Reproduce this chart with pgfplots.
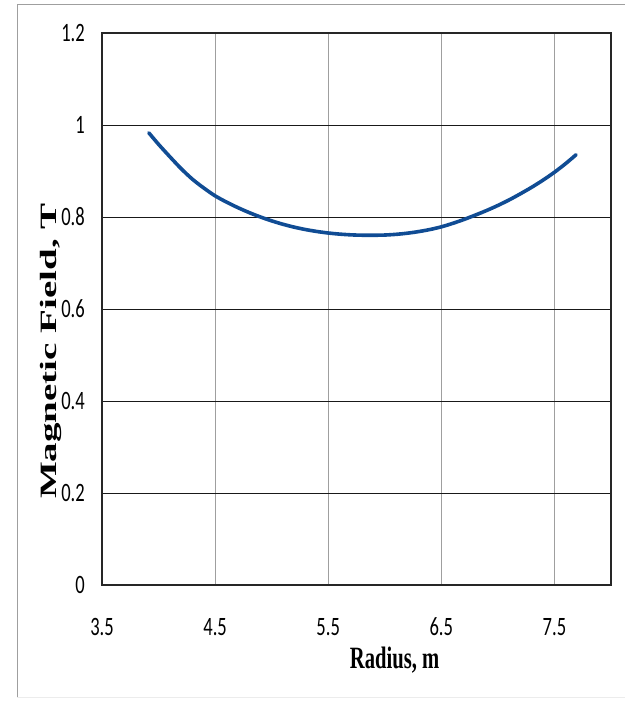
\documentclass[border=0pt]{standalone}
\usepackage{graphicx}
\usepackage{fontspec}
\setmainfont{Liberation Serif}
\newfontfamily\tickfont{Carlito}
\usepackage{pgfplots}
\pgfplotsset{compat=1.18}
\definecolor{curveblue}{RGB}{16,76,148}
\newcommand\sx[1]{\scalebox{0.70}[1]{#1}}
\begin{document}
\begin{tikzpicture}[x=1pt,y=1pt]
\useasboundingbox (0,0) rectangle (625,702);
\draw[gray!75, line width=1pt] (17,4) -- (17,697) -- (625,697);
\draw[gray!15, line width=1pt] (17,4) -- (625,4);
\begin{axis}[
  at={(102pt,117pt)}, anchor=south west,
  width=509pt, height=552pt, scale only axis,
  xmin=3.5, xmax=8, ymin=0, ymax=1.2,
  xtick={3.5,4.5,5.5,6.5,7.5},
  xticklabels={\sx{3.5},\sx{4.5},\sx{5.5},\sx{6.5},\sx{7.5}},
  ytick={0,0.2,0.4,0.6,0.8,1,1.2},
  yticklabels={\sx{0},\sx{0.2},\sx{0.4},\sx{0.6},\sx{0.8},\sx{1},\sx{1.2}},
  major tick length=0pt,
  ticklabel style={font=\tickfont\fontsize{26.5}{26.5}\selectfont, inner sep=0pt},
  xticklabel style={anchor=base, yshift=-50.7pt},
  yticklabel style={anchor=east, xshift=-17pt},
  grid=major,
  x grid style={gray!75, line width=0.9pt},
  y grid style={black!90, line width=0.8pt},
  axis line style={black!85, line width=1.5pt},
  clip=false,
]
\addplot[curveblue, line width=3.6pt, smooth, tension=0.5, line cap=round] coordinates {
(3.914,0.983)
(4.0,0.958)
(4.1,0.931)
(4.2,0.905)
(4.3,0.882)
(4.4,0.863)
(4.5,0.846)
(4.6,0.8325)
(4.7,0.8205)
(4.8,0.8097)
(4.9,0.8001)
(5.0,0.7916)
(5.1,0.7842)
(5.2,0.7779)
(5.3,0.7727)
(5.4,0.7685)
(5.5,0.7652)
(5.6,0.7628)
(5.7,0.7612)
(5.8,0.7604)
(5.9,0.7603)
(6.0,0.7608)
(6.1,0.7623)
(6.2,0.7648)
(6.3,0.7683)
(6.4,0.7728)
(6.5,0.7786)
(6.6,0.7861)
(6.7,0.7946)
(6.8,0.8041)
(6.9,0.8141)
(7.0,0.8251)
(7.1,0.8372)
(7.2,0.8506)
(7.3,0.8648)
(7.4,0.8803)
(7.5,0.8973)
(7.6,0.9163)
(7.691,0.9353)
};
\end{axis}
\node[anchor=base, inner sep=0pt] at (394.6,34) {\fontsize{31}{31}\selectfont\bfseries\scalebox{0.665}[1]{Radius, m}};
\node[rotate=90, anchor=base, inner sep=0pt] at (56.8,351) {\fontsize{39}{39}\selectfont\bfseries\scalebox{1}[0.6]{Magnetic Field, T}};
\end{tikzpicture}
\end{document}
